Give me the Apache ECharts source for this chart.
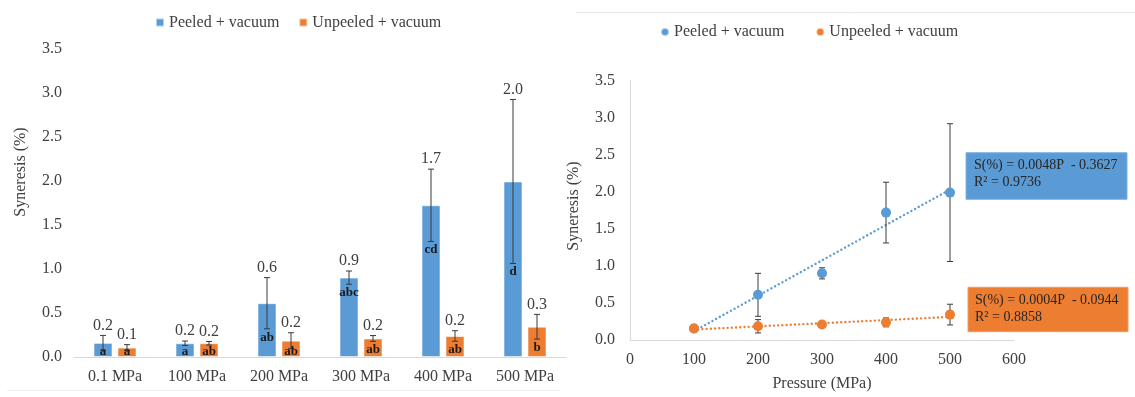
<!DOCTYPE html>
<html>
<head>
<meta charset="utf-8">
<title>Syneresis</title>
<script src="https://cdn.jsdelivr.net/npm/echarts@6/dist/echarts.min.js"></script>
<style>
  html, body { margin: 0; padding: 0; background: #ffffff; }
  #chart { width: 1135px; height: 397px; }
</style>
</head>
<body>
<div id="chart"></div>
<script>
// Syneresis (%) of peeled / unpeeled vacuum-packed samples after pressure treatment
const categories = ['0.1 MPa', '100 MPa', '200 MPa', '300 MPa', '400 MPa', '500 MPa'];
const peeled = [0.16, 0.156, 0.61, 0.90, 1.72, 1.99];
const peeledErr = [0.085, 0.025, 0.29, 0.075, 0.41, 0.93];
const unpeeled = [0.107, 0.156, 0.185, 0.21, 0.238, 0.343];
const unpeeledErr = [0.033, 0.02, 0.09, 0.033, 0.06, 0.14];
const peeledLetters = ['a', 'a', 'ab', 'abc', 'cd', 'd'];
const unpeeledLetters = ['a', 'ab', 'ab', 'ab', 'ab', 'b'];

// pressure levels used in the regression panel (100–500 MPa)
const pressures = [100, 200, 300, 400, 500];
const equations = [
  ['S(%) = 0.0048P  - 0.3627', 'R\u00B2 = 0.9736'],
  ['S(%) = 0.0004P  - 0.0944', 'R\u00B2 = 0.8858']
];
const yTicks = [0, 0.5, 1, 1.5, 2, 2.5, 3, 3.5];

const BLUE = '#5B9BD5';
const ORANGE = '#ED7D31';
const TEXT = '#404040';
const AXIS = '#d9d9d9';
const FONT = '"Liberation Serif", "Times New Roman", serif';

const NAME_P = 'Peeled + vacuum';
const NAME_U = 'Unpeeled + vacuum';

// least-squares line through (x, y)
function linearFit(xs, ys) {
  const n = xs.length;
  const mx = xs.reduce((a, b) => a + b, 0) / n;
  const my = ys.reduce((a, b) => a + b, 0) / n;
  let sxy = 0, sxx = 0;
  for (let i = 0; i < n; i++) {
    sxy += (xs[i] - mx) * (ys[i] - my);
    sxx += (xs[i] - mx) * (xs[i] - mx);
  }
  const slope = sxy / sxx;
  return { slope, intercept: my - slope * mx };
}

function trendData(xs, ys) {
  const f = linearFit(xs, ys);
  const x0 = xs[0], x1 = xs[xs.length - 1];
  return [[x0, f.slope * x0 + f.intercept], [x1, f.slope * x1 + f.intercept]];
}

const BAR_W = 19;
const BAR_GAP = 5;
const HALF = (BAR_W + BAR_GAP) / 2;

// error bar, value label and letter group for one bar series
function barDecorations(values, errs, letters, side) {
  return function (params, api) {
    const i = api.value(0);
    const v = api.value(1);
    const e = api.value(2);
    const cx = api.coord([i, v])[0] + side * HALF;
    const yTop = api.coord([i, v + e])[1];
    const yBot = api.coord([i, Math.max(v - e, 0)])[1];
    const yBase = api.coord([i, 0])[1];
    const cap = 3;
    const lineStyle = { stroke: '#3a3a3a', lineWidth: 1 };
    return {
      type: 'group',
      children: [
        { type: 'line', shape: { x1: cx, y1: yTop, x2: cx, y2: yBot }, style: lineStyle },
        { type: 'line', shape: { x1: cx - cap, y1: yTop, x2: cx + cap, y2: yTop }, style: lineStyle },
        { type: 'line', shape: { x1: cx - cap, y1: yBot, x2: cx + cap, y2: yBot }, style: lineStyle },
        {
          type: 'text',
          style: {
            text: v.toFixed(1), x: cx, y: yTop - 10,
            align: 'center', verticalAlign: 'middle',
            fontSize: 16, fontFamily: FONT, fill: TEXT
          }
        },
        {
          type: 'text',
          style: {
            text: letters[i], x: cx, y: Math.min(yBot + 8.5, yBase - 5),
            align: 'center', verticalAlign: 'middle',
            fontSize: 13, fontWeight: 'bold', fontFamily: FONT, fill: '#1a1a1a'
          }
        }
      ]
    };
  };
}

// vertical error bars for the scatter panel
function pointErrors(params, api) {
  const x = api.value(0);
  const v = api.value(1);
  const e = api.value(2);
  const top = api.coord([x, v + e]);
  const bot = api.coord([x, Math.max(v - e, 0)]);
  const cap = 3;
  const s = { stroke: '#3a3a3a', lineWidth: 1 };
  return {
    type: 'group',
    children: [
      { type: 'line', shape: { x1: top[0], y1: top[1], x2: bot[0], y2: bot[1] }, style: s },
      { type: 'line', shape: { x1: top[0] - cap, y1: top[1], x2: top[0] + cap, y2: top[1] }, style: s },
      { type: 'line', shape: { x1: bot[0] - cap, y1: bot[1], x2: bot[0] + cap, y2: bot[1] }, style: s }
    ]
  };
}

const pVals = peeled.slice(1), pErrs = peeledErr.slice(1);
const uVals = unpeeled.slice(1), uErrs = unpeeledErr.slice(1);

const chart = echarts.init(document.getElementById('chart'), null, { renderer: 'canvas' });

const yAxisCommon = {
  type: 'value', min: 0, max: 3.5, interval: 0.5,
  splitLine: { show: false },
  axisTick: { show: false },
  axisLabel: {
    color: TEXT, fontSize: 16, fontFamily: FONT,
    formatter: v => yTicks.indexOf(v) >= 0 ? v.toFixed(1) : ''
  }
};

const dotted = color => ({ color: color, width: 2.4, type: [0.01, 4.2], cap: 'round' });

const option = {
  animation: false,
  backgroundColor: '#ffffff',
  textStyle: { fontFamily: FONT },
  legend: [
    {
      left: 155, top: 14.5, padding: 0,
      itemWidth: 8, itemHeight: 8, itemGap: 19,
      textStyle: { color: TEXT, fontSize: 16, fontFamily: FONT },
      data: [{ name: NAME_P, icon: 'rect' }, { name: NAME_U, icon: 'rect' }]
    },
    {
      left: 660, top: 24, padding: 0,
      itemWidth: 8, itemHeight: 8, itemGap: 31,
      textStyle: { color: TEXT, fontSize: 16, fontFamily: FONT },
      data: [{ name: NAME_P, icon: 'circle' }, { name: NAME_U, icon: 'circle' }]
    }
  ],
  grid: [
    { left: 74, right: 569, top: 48.3, bottom: 40 },
    { left: 630, right: 121, top: 80.75, bottom: 52 }
  ],
  xAxis: [
    {
      gridIndex: 0, type: 'category', data: categories,
      axisLine: { lineStyle: { color: AXIS, width: 1 } },
      axisTick: { show: false },
      axisLabel: { color: TEXT, fontSize: 16, fontFamily: FONT, margin: 12 }
    },
    {
      gridIndex: 1, type: 'value', min: 0, max: 600, interval: 100,
      name: 'Pressure (MPa)', nameLocation: 'middle', nameGap: 36,
      nameTextStyle: { color: TEXT, fontSize: 16, fontFamily: FONT },
      splitLine: { show: false },
      axisLine: { show: true, lineStyle: { color: AXIS, width: 1 } },
      axisTick: { show: false },
      axisLabel: { color: TEXT, fontSize: 16, fontFamily: FONT, margin: 12 }
    }
  ],
  yAxis: [
    Object.assign({}, yAxisCommon, {
      gridIndex: 0,
      axisLine: { show: false },
      axisLabel: Object.assign({}, yAxisCommon.axisLabel, { margin: 12 })
    }),
    Object.assign({}, yAxisCommon, {
      gridIndex: 1,
      axisLine: { show: true, lineStyle: { color: AXIS, width: 1 } },
      axisLabel: Object.assign({}, yAxisCommon.axisLabel, { margin: 15 })
    })
  ],
  series: [
    {
      name: NAME_P, type: 'bar', xAxisIndex: 0, yAxisIndex: 0,
      data: peeled, barWidth: BAR_W, barGap: (BAR_GAP / BAR_W * 100) + '%',
      itemStyle: { color: BLUE, borderColor: 'rgba(255,255,255,0.55)', borderWidth: 1 }
    },
    {
      name: NAME_U, type: 'bar', xAxisIndex: 0, yAxisIndex: 0,
      data: unpeeled, barWidth: BAR_W,
      itemStyle: { color: ORANGE, borderColor: 'rgba(255,255,255,0.55)', borderWidth: 1 }
    },
    {
      type: 'custom', xAxisIndex: 0, yAxisIndex: 0, z: 5, silent: true,
      renderItem: barDecorations(peeled, peeledErr, peeledLetters, -1),
      data: peeled.map((v, i) => [i, v, peeledErr[i]])
    },
    {
      type: 'custom', xAxisIndex: 0, yAxisIndex: 0, z: 5, silent: true,
      renderItem: barDecorations(unpeeled, unpeeledErr, unpeeledLetters, 1),
      data: unpeeled.map((v, i) => [i, v, unpeeledErr[i]])
    },
    {
      type: 'line', xAxisIndex: 1, yAxisIndex: 1, z: 2, silent: true,
      data: trendData(pressures, pVals), symbol: 'none',
      lineStyle: dotted(BLUE)
    },
    {
      type: 'line', xAxisIndex: 1, yAxisIndex: 1, z: 2, silent: true,
      data: trendData(pressures, uVals), symbol: 'none',
      lineStyle: dotted(ORANGE)
    },
    {
      type: 'custom', xAxisIndex: 1, yAxisIndex: 1, z: 3, silent: true,
      renderItem: pointErrors,
      data: pressures.map((p, i) => [p, pVals[i], pErrs[i]])
    },
    {
      type: 'custom', xAxisIndex: 1, yAxisIndex: 1, z: 3, silent: true,
      renderItem: pointErrors,
      data: pressures.map((p, i) => [p, uVals[i], uErrs[i]])
    },
    {
      name: NAME_P, type: 'scatter', xAxisIndex: 1, yAxisIndex: 1, z: 4,
      symbolSize: 10, itemStyle: { color: BLUE, opacity: 1 },
      data: pressures.map((p, i) => [p, pVals[i]])
    },
    {
      name: NAME_U, type: 'scatter', xAxisIndex: 1, yAxisIndex: 1, z: 4,
      symbolSize: 10, itemStyle: { color: ORANGE, opacity: 1 },
      data: pressures.map((p, i) => [p, uVals[i]])
    }
  ],
  graphic: [
    // faint panel frame edges
    { type: 'line', shape: { x1: 7, y1: 390.5, x2: 560, y2: 390.5 }, style: { stroke: '#efefef', lineWidth: 1 } },
    { type: 'line', shape: { x1: 576, y1: 12.5, x2: 1135, y2: 12.5 }, style: { stroke: '#e8e8e8', lineWidth: 1 } },
    // y-axis titles
    {
      type: 'text', x: 20.5, y: 172, rotation: Math.PI / 2,
      style: { text: 'Syneresis (%)', align: 'center', verticalAlign: 'middle', fontSize: 16, fontFamily: FONT, fill: TEXT }
    },
    {
      type: 'text', x: 573.5, y: 206, rotation: Math.PI / 2,
      style: { text: 'Syneresis (%)', align: 'center', verticalAlign: 'middle', fontSize: 16, fontFamily: FONT, fill: TEXT }
    },
    // regression equation boxes
    {
      type: 'group', x: 966, y: 152.7,
      children: [
        { type: 'rect', shape: { x: 0, y: 0, width: 161, height: 46.6 }, style: { fill: BLUE, stroke: '#7fb2e0', lineWidth: 1 } },
        { type: 'text', x: 8, y: 12.3, style: { text: equations[0][0], verticalAlign: 'middle', fontSize: 14, fontFamily: FONT, fill: '#262626' } },
        { type: 'text', x: 8, y: 30, style: { text: equations[0][1], verticalAlign: 'middle', fontSize: 14, fontFamily: FONT, fill: '#262626' } }
      ]
    },
    {
      type: 'group', x: 968, y: 287.3,
      children: [
        { type: 'rect', shape: { x: 0, y: 0, width: 160, height: 44.4 }, style: { fill: ORANGE, stroke: '#f29a63', lineWidth: 1 } },
        { type: 'text', x: 7, y: 12.7, style: { text: equations[1][0], verticalAlign: 'middle', fontSize: 14, fontFamily: FONT, fill: '#262626' } },
        { type: 'text', x: 7, y: 30.4, style: { text: equations[1][1], verticalAlign: 'middle', fontSize: 14, fontFamily: FONT, fill: '#262626' } }
      ]
    }
  ]
};

chart.setOption(option);
</script>
</body>
</html>
